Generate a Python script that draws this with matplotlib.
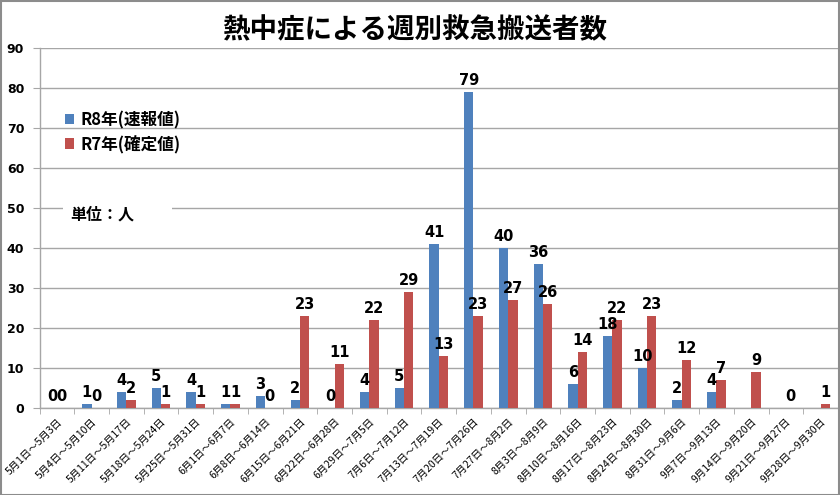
import numpy as np
import matplotlib
matplotlib.use("Agg")
import matplotlib.pyplot as plt
from matplotlib.patches import Rectangle

plt.rcParams['font.family'] = ['Noto Sans CJK JP', 'DejaVu Sans']

categories = ["5月1日～5月3日", "5月4日～5月10日", "5月11日～5月17日", "5月18日～5月24日",
              "5月25日～5月31日", "6月1日～6月7日", "6月8日～6月14日", "6月15日～6月21日",
              "6月22日～6月28日", "6月29日～7月5日", "7月6日～7月12日", "7月13日～7月19日",
              "7月20日～7月26日", "7月27日～8月2日", "8月3日～8月9日", "8月10日～8月16日",
              "8月17日～8月23日", "8月24日～8月30日", "8月31日～9月6日", "9月7日～9月13日",
              "9月14日～9月20日", "9月21日～9月27日", "9月28日～9月30日"]
r8_values = [0, 1, 4, 5, 4, 1, 3, 2, 0, 4, 5, 41, 79, 40, 36, 6, 18, 10, 2, 4,
             None, None, None]
r7_values = [0, 0, 2, 1, 1, 1, 0, 23, 11, 22, 29, 13, 23, 27, 26, 14, 22, 23, 12, 7,
             9, 0, 1]
series_names = ["R8年(速報値)", "R7年(確定値)"]
colors = ["#4F81BD", "#C0504D"]
title = "熱中症による週別救急搬送者数"
unit_text = "単位：人"
yticks = list(range(0, 100, 10))

fig = plt.figure(figsize=(8.4, 4.95), dpi=100)
ax = fig.add_axes([39.5 / 840, (495 - 408) / 495, (838 - 39.5) / 840, 360 / 495])

x = np.arange(len(categories))
bw = 0.27
r8 = np.array([np.nan if v is None else v for v in r8_values], dtype=float)
r7 = np.array([np.nan if v is None else v for v in r7_values], dtype=float)
b1 = ax.bar(x - bw / 2, r8, width=bw, color=colors[0], label=series_names[0], zorder=3)
b2 = ax.bar(x + bw / 2, r7, width=bw, color=colors[1], label=series_names[1], zorder=3)

for bars, vals in ((b1, r8), (b2, r7)):
    for rect, v in zip(bars, vals):
        if np.isnan(v):
            continue
        ax.annotate(f"{int(v)}", (rect.get_x() + rect.get_width() / 2, v),
                    xytext=(0, 3), textcoords="offset points", ha="center", va="bottom",
                    fontsize=10.5, fontweight="bold", family=['DejaVu Sans'], zorder=4)

ax.set_xlim(-0.5, len(categories) - 0.5)
ax.set_ylim(0, 90)
ax.set_yticks(yticks)
ax.set_yticklabels([str(t) for t in yticks], fontsize=9, fontweight="bold",
                   family=['DejaVu Sans'])
ax.yaxis.grid(True, color="#a6a6a6", linewidth=1.0, zorder=0)
ax.set_axisbelow(True)
ax.tick_params(axis="y", length=5, color="#a6a6a6", pad=6)

ax.set_xticks(x)
ax.set_xticklabels(categories, rotation=45, ha="right", va="top",
                   rotation_mode="anchor", fontsize=7.5)
ax.tick_params(axis="x", length=0, pad=6)
ax.set_xticks(np.arange(-0.5, len(categories), 1.0), minor=True)
ax.tick_params(axis="x", which="minor", length=4, color="#a6a6a6")

for s in ("top", "right"):
    ax.spines[s].set_visible(False)
for s in ("left", "bottom"):
    ax.spines[s].set_color("#a6a6a6")
    ax.spines[s].set_linewidth(1.0)

# legend
leg = fig.legend(handles=[b1, b2], labels=series_names, loc="upper left",
                 bbox_to_anchor=(65 / 840, 1 - 111 / 495), frameon=False,
                 prop={'size': 12, 'weight': 'bold', 'family': ['Noto Sans CJK JP']},
                 handlelength=0.55, handleheight=0.55, handletextpad=0.4,
                 labelspacing=0.35, borderaxespad=0, borderpad=0)

# unit label with white background
fig.text(70 / 840, 1 - 215 / 495, unit_text, fontsize=11.5, fontweight="bold",
         ha="left", va="center")
ax.add_patch(Rectangle((63 / 840, 1 - 222 / 495), (172 - 63) / 840, 16 / 495,
                       transform=fig.transFigure, facecolor="white", edgecolor="none",
                       zorder=1))

fig.text(415 / 840, 1 - 30 / 495, title, fontsize=19.8, fontweight="bold",
         ha="center", va="center")

# outer frame
fig.patches.append(Rectangle((0.5 / 840, 0.5 / 495), 838.5 / 840, 493.5 / 495,
                             transform=fig.transFigure, fill=False,
                             edgecolor="#8c8c8c", linewidth=1.5))

fig.savefig("out.png", dpi=100)
